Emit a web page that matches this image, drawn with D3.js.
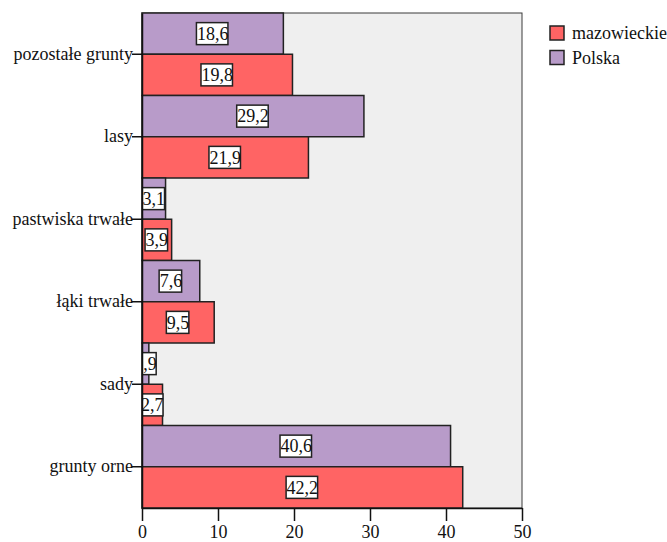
<!DOCTYPE html>
<html>
<head>
<meta charset="utf-8">
<script src="https://cdn.jsdelivr.net/npm/d3@7"></script>
<style>
  html, body { margin: 0; padding: 0; background: #fff; }
  svg { display: block; }
</style>
</head>
<body>
<svg id="chart" width="667" height="542" font-family="'Liberation Serif'"></svg>
<script>
// Land use structure, percent of total area
const categories = ["pozostałe grunty", "lasy", "pastwiska trwałe", "łąki trwałe", "sady", "grunty orne"];
const seriesNames = ["mazowieckie", "Polska"];
const mazowieckie = [19.8, 21.9, 3.9, 9.5, 2.7, 42.2];
const polska = [18.6, 29.2, 3.1, 7.6, 0.9, 40.6];
const xTicks = [0, 10, 20, 30, 40, 50];

const colors = { mazowieckie: "#ff6464", Polska: "#b89bc9" };
const serif = "'Liberation Serif'";

const svg = d3.select("#chart");
const plot = { left: 142, right: 522, top: 13, bottom: 508 };

const x = d3.scaleLinear().domain([0, 50]).range([plot.left, plot.right]);
const y = d3.scaleBand().domain(categories).range([plot.top, plot.bottom]).padding(0);
// within a category: Polska above, mazowieckie below
const sub = d3.scaleBand().domain(["Polska", "mazowieckie"]).range([0, y.bandwidth()]);

const fmt = v => d3.format(".1f")(v).replace(".", ",");

// plot background
svg.append("rect")
  .attr("x", plot.left).attr("y", plot.top)
  .attr("width", plot.right - plot.left).attr("height", plot.bottom - plot.top)
  .attr("fill", "#efefef").attr("stroke", "#3a3a3a").attr("stroke-width", 1);

svg.append("clipPath").attr("id", "plotClip")
  .append("rect")
  .attr("x", plot.left).attr("y", plot.top)
  .attr("width", plot.right - plot.left).attr("height", plot.bottom - plot.top);

const rows = [];
categories.forEach((c, i) => {
  rows.push({ cat: c, series: "Polska", value: polska[i] });
  rows.push({ cat: c, series: "mazowieckie", value: mazowieckie[i] });
});

// bars
svg.append("g").selectAll("rect").data(rows).join("rect")
  .attr("x", x(0))
  .attr("y", d => y(d.cat) + sub(d.series))
  .attr("width", d => x(d.value) - x(0))
  .attr("height", sub.bandwidth())
  .attr("fill", d => colors[d.series])
  .attr("stroke", "#222")
  .attr("stroke-width", 1.5);

// value labels in white boxes, clipped to the plot area
const lab = svg.append("g").attr("clip-path", "url(#plotClip)")
  .selectAll("g").data(rows).join("g")
  .attr("transform", d => `translate(${(x(0) + x(d.value)) / 2},${y(d.cat) + sub(d.series) + sub.bandwidth() / 2})`);

lab.append("text")
  .attr("text-anchor", "middle")
  .attr("dy", "0.34em")
  .attr("font-size", 18)
  .attr("font-family", serif)
  .style("font-family", serif)
  .attr("fill", "#111")
  .text(d => fmt(d.value))
  .each(function () {
    const w = this.getComputedTextLength();
    d3.select(this.parentNode).insert("rect", "text")
      .attr("x", -w / 2 - 0.5).attr("y", -11)
      .attr("width", w).attr("height", 22)
      .attr("fill", "#fff").attr("stroke", "#222").attr("stroke-width", 1.5);
  });

// bottom axis
const xAxis = svg.append("g")
  .attr("transform", `translate(0,${plot.bottom})`)
  .call(d3.axisBottom(x).tickValues(xTicks).tickFormat(d3.format("d")).tickSize(13).tickSizeOuter(0))
  .attr("font-family", serif);
xAxis.select(".domain").attr("stroke", "#111").attr("stroke-width", 1.5);
xAxis.selectAll(".tick line").attr("stroke", "#111").attr("stroke-width", 1.5);
xAxis.selectAll(".tick text")
  .attr("font-family", serif)
  .style("font-family", serif)
  .attr("font-size", 18)
  .attr("fill", "#111").attr("y", 30).attr("dy", 0);

// left axis with category names
const yAxis = svg.append("g")
  .attr("transform", `translate(${plot.left},0)`)
  .call(d3.axisLeft(y).tickSize(10).tickSizeOuter(0).tickPadding(-1))
  .attr("font-family", serif);
yAxis.select(".domain").attr("stroke", "#111").attr("stroke-width", 1.5);
yAxis.selectAll(".tick line").attr("stroke", "#111").attr("stroke-width", 1.5);
yAxis.selectAll(".tick text")
  .attr("font-family", serif)
  .style("font-family", serif)
  .attr("font-size", 18)
  .attr("fill", "#111").attr("dy", "0.3em");

// legend
const legend = svg.append("g")
  .selectAll("g").data(seriesNames).join("g")
  .attr("transform", (d, i) => `translate(550,${26 + i * 24.5})`);
legend.append("rect")
  .attr("width", 14).attr("height", 14)
  .attr("fill", d => colors[d]).attr("stroke", "#222").attr("stroke-width", 1.5);
legend.append("text")
  .attr("x", 22).attr("y", 7).attr("dy", "0.34em")
  .attr("font-family", serif)
  .style("font-family", serif)
  .attr("font-size", 18).attr("fill", "#111")
  .text(d => d);
</script>
</body>
</html>
